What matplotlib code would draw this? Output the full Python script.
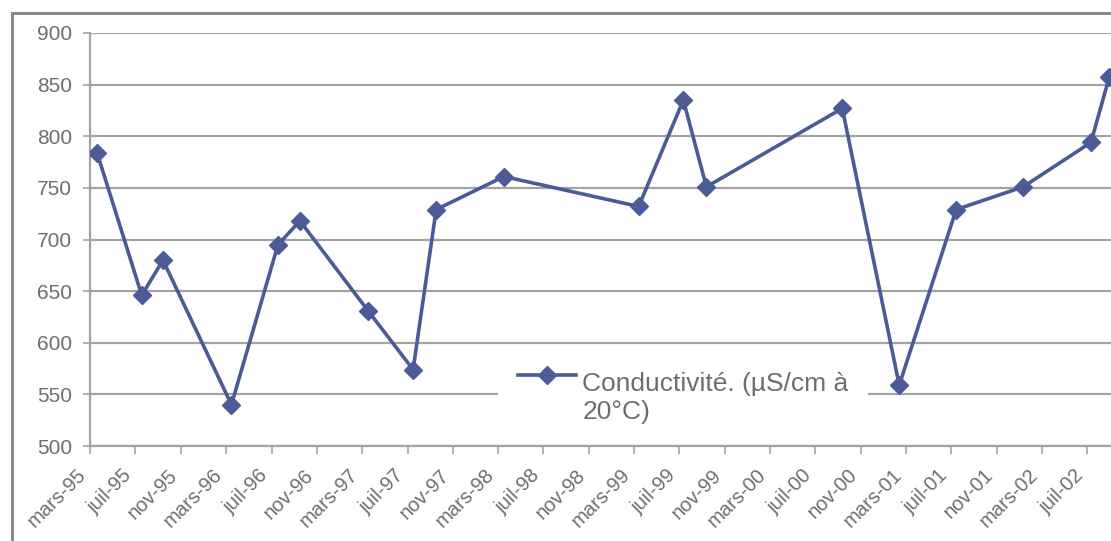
import matplotlib
matplotlib.use('Agg')
from matplotlib import pyplot as plt
from matplotlib.lines import Line2D
import numpy as np
import pandas as pd

plt.rcParams['font.family'] = ['Liberation Sans', 'DejaVu Sans']

# sampling dates and conductivity readings (µS/cm at 20°C)
dates = ['1995-03-20', '1995-07-18', '1995-09-13', '1996-03-15', '1996-07-18',
         '1996-09-15', '1997-03-17', '1997-07-16', '1997-09-16', '1998-03-17',
         '1999-03-14', '1999-07-12', '1999-09-12', '2000-09-11', '2001-02-11',
         '2001-07-14', '2002-01-10', '2002-07-11', '2002-08-29']
conductivity = [784, 646, 680, 540, 695, 718, 631, 574, 729, 761,
                732, 835, 751, 827, 559, 729, 751, 794, 857]

tick_labels = ['mars-95', 'juil-95', 'nov-95', 'mars-96', 'juil-96', 'nov-96',
               'mars-97', 'juil-97', 'nov-97', 'mars-98', 'juil-98', 'nov-98',
               'mars-99', 'juil-99', 'nov-99', 'mars-00', 'juil-00', 'nov-00',
               'mars-01', 'juil-01', 'nov-01', 'mars-02', 'juil-02']
y_ticks = [500, 550, 600, 650, 700, 750, 800, 850, 900]

x = pd.to_datetime(dates)
tick_pos = pd.date_range('1995-03-01', periods=len(tick_labels), freq='4MS')

line_col = '#4b5b96'
grid_col = '#a3a3a3'
text_col = '#6e6e6e'

W, H = 1111, 541
fig = plt.figure(figsize=(W / 100, H / 100), dpi=100)
fig.patch.set_facecolor('white')

# plot area runs past the right edge of the picture (cropped scan)
ax = fig.add_axes([90 / W, (H - 446) / H, 1043 / W, 413 / H])
ax.plot(x, conductivity, color=line_col, linewidth=2.6, marker='D',
        markersize=9.5, markerfacecolor=line_col, markeredgecolor=line_col,
        label='Conductivité. (µS/cm à\n20°C)', zorder=3)

ax.set_xlim(pd.Timestamp('1995-03-01'), pd.Timestamp('2002-11-01'))
ax.set_ylim(500, 900)
ax.set_yticks(y_ticks)
ax.set_xticks(tick_pos)
ax.set_xticklabels(tick_labels, rotation=45, ha='right', va='top')

ax.grid(axis='y', color=grid_col, linewidth=1.6)
ax.set_axisbelow(True)
for s in ['top', 'right']:
    ax.spines[s].set_visible(False)
for s in ['left', 'bottom']:
    ax.spines[s].set_color(grid_col)
    ax.spines[s].set_linewidth(1.6)

ax.tick_params(axis='y', colors=text_col, labelsize=15, length=5, width=1.2,
               color=grid_col, pad=8)
ax.tick_params(axis='x', colors=text_col, labelsize=14.5, length=6, width=1.2,
               color=grid_col, pad=8)

leg = ax.legend(loc='lower left', bbox_to_anchor=(0.391, 0.005),
                borderaxespad=0, fontsize=19, frameon=True, fancybox=False,
                framealpha=1, edgecolor='none', facecolor='white',
                handlelength=2.2, handletextpad=0.25, borderpad=0.75)
for t in leg.get_texts():
    t.set_color(text_col)
# put the legend key level with the first text line, as in the original
for h in leg.legend_handles:
    h.set_ydata(np.asarray(h.get_ydata()) + 17)

# outer chart border (top and left only, the rest is cropped)
fig.add_artist(Line2D([12 / W, 1.0], [1 - 13 / H, 1 - 13 / H],
                      color='#8a8a8a', linewidth=2.2))
fig.add_artist(Line2D([12 / W, 12 / W], [0.0, 1 - 13 / H],
                      color='#8a8a8a', linewidth=2.2))

fig.savefig('out.png', dpi=100, facecolor='white')
